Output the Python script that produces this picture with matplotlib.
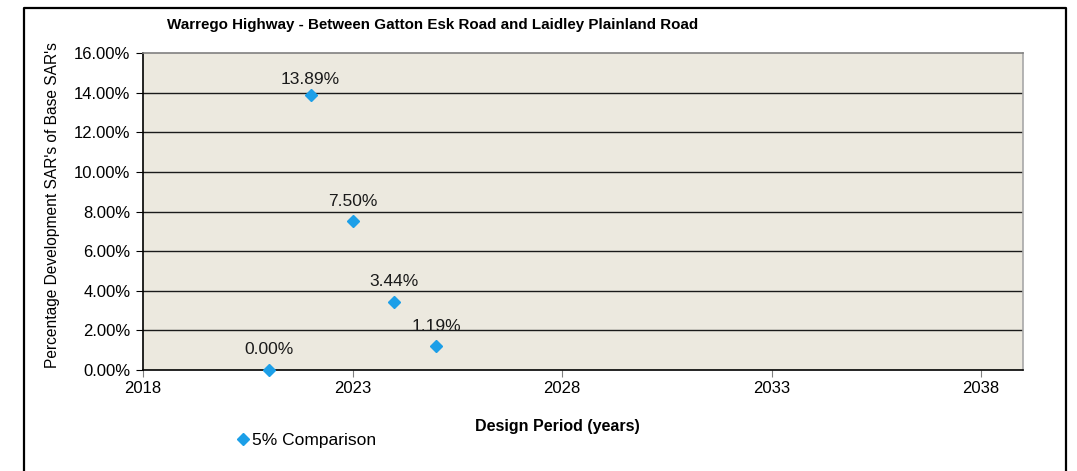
import matplotlib
matplotlib.use("Agg")
import matplotlib.pyplot as plt
from matplotlib.lines import Line2D
from matplotlib.ticker import FuncFormatter

plt.rcParams['font.family'] = ['Liberation Sans', 'DejaVu Sans']

years = [2021, 2022, 2023, 2024, 2025]
pct_values = [0.00, 13.89, 7.50, 3.44, 1.19]
series_name = "5% Comparison"
title = "Warrego Highway - Between Gatton Esk Road and Laidley Plainland Road"
x_ticks = [2018, 2023, 2028, 2033, 2038]
y_ticks = [0, 2, 4, 6, 8, 10, 12, 14, 16]

fig = plt.figure(figsize=(10.77, 4.71), dpi=100)
ax = fig.add_axes([143 / 1077, 1 - 370 / 471, 880 / 1077, 317 / 471])
ax.set_facecolor('#ECE9DF')

ax.set_xlim(2018, 2039)
ax.set_ylim(0, 16)
ax.set_xticks(x_ticks)
ax.set_yticks(y_ticks)
ax.yaxis.set_major_formatter(FuncFormatter(lambda v, p: f"{v:.2f}%"))
ax.tick_params(axis='both', labelsize=12, colors='#000000', direction='out', length=5)
ax.tick_params(axis='x', color='#808080', pad=3)
ax.tick_params(axis='y', pad=4)

for y in y_ticks[1:-1]:
    ax.axhline(y, color='#1a1a1a', lw=1.0, zorder=1)

ax.spines['left'].set_color('#000000')
ax.spines['bottom'].set_color('#000000')
ax.spines['top'].set_color('#808080')
ax.spines['right'].set_color('#A8A8A8')
for s in ax.spines.values():
    s.set_linewidth(1.2)

ax.plot(years, pct_values, linestyle='none', marker='D', markersize=6.5,
        color='#1C9FE8', markeredgecolor='#1C9FE8', label=series_name, zorder=3,
        clip_on=False)

# the label near the top of the plot sits a little closer to its marker
top_value = max(pct_values)
for x, v in zip(years, pct_values):
    dy = 5.5 if v == top_value else 9
    ax.annotate(f"{v:.2f}%", (x, v), xytext=(0, dy), textcoords='offset points',
                ha='center', va='bottom', fontsize=12.5, color='#1a1a1a')

fig.text(53 / 1077, 1 - 205 / 471, "Percentage Development SAR's of Base SAR's",
         fontsize=11.2, rotation=90, ha='center', va='center')
fig.text(557 / 1077, 1 - 426 / 471, "Design Period (years)", fontsize=11.5,
         fontweight='bold', ha='center', va='center')
fig.text(167 / 1077, 1 - 25 / 471, title, fontsize=10.9, fontweight='bold',
         ha='left', va='center')

leg = fig.legend(loc='center left', bbox_to_anchor=(238 / 1077, 1 - 440 / 471),
                 frameon=False, fontsize=12.5, handlelength=0.6, handletextpad=0.2,
                 borderpad=0, borderaxespad=0)

# chart area border (open at the bottom)
fx = lambda px: px / 1077
fy = lambda py: 1 - py / 471
fig.add_artist(Line2D([fx(24), fx(24), fx(1066), fx(1066)],
                      [0, fy(8), fy(8), 0], color='#000000', lw=1.6,
                      transform=fig.transFigure))

fig.savefig("out.png", dpi=100)
